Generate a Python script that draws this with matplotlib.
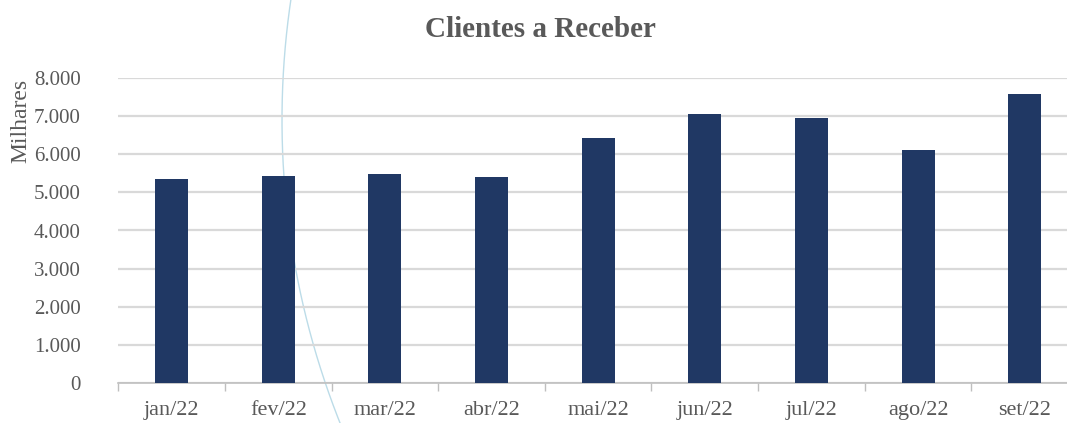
import numpy as np
import matplotlib
matplotlib.use("Agg")
import matplotlib.pyplot as plt
from matplotlib.ticker import FuncFormatter, FixedLocator

meses = ["jan/22", "fev/22", "mar/22", "abr/22", "mai/22", "jun/22", "jul/22", "ago/22", "set/22"]
valores = [5350, 5440, 5470, 5400, 6430, 7060, 6960, 6110, 7580]

plt.rcParams['font.family'] = ['Liberation Serif', 'DejaVu Serif']
cinza = "#595959"

W, H = 1067, 423
fig = plt.figure(figsize=(W / 100, H / 100), dpi=100)
ax = fig.add_axes([118.3 / W, 1 - 383 / H, (1078 - 118.3) / W, 305 / H])

# arco azul claro decorativo (atrás de tudo)
t = np.linspace(np.pi - 0.6, np.pi + 0.45, 200)
cx, cy, r = 1102, 120, 820
px = cx + r * np.cos(t)
py = cy - r * np.sin(t)
fig.add_artist(plt.Line2D(px / W, 1 - py / H, transform=fig.transFigure,
                          color="#bcdce8", lw=1.0, zorder=0.5))
ax.set_zorder(1)
ax.patch.set_alpha(0)

x = np.arange(len(meses))
ax.bar(x, valores, width=0.31, color="#203864", zorder=3)

ax.set_xlim(-0.5, len(meses) - 0.5)
ax.set_ylim(0, 8000)
ax.set_yticks(np.arange(0, 8001, 1000))
ax.yaxis.set_major_formatter(FuncFormatter(lambda v, p: f"{int(v):,}".replace(",", ".")))
ax.grid(axis="y", color="#d9d9d9", lw=1.6, zorder=0)
ax.tick_params(axis="y", length=0, pad=27, labelsize=15, labelcolor=cinza)

ax.xaxis.set_major_locator(FixedLocator(np.arange(-0.5, len(meses), 1)))
ax.xaxis.set_minor_locator(FixedLocator(x))
ax.set_xticklabels([], minor=False)
ax.set_xticklabels(meses, minor=True)
ax.tick_params(axis="x", which="major", length=6, color="#bfbfbf", width=1)
ax.tick_params(axis="x", which="minor", length=0, pad=13, labelsize=16, labelcolor=cinza)

for s in ["top", "right", "left"]:
    ax.spines[s].set_visible(False)
ax.spines["bottom"].set_color("#bfbfbf")
ax.spines["bottom"].set_linewidth(1.2)

fig.text(540 / W, 1 - 37 / H, "Clientes a Receber", ha="center", va="baseline",
         fontsize=21, fontweight="bold", color=cinza)
fig.text(21 / W, 1 - 121 / H, "Milhares", rotation=90, ha="center", va="center",
         fontsize=17, color=cinza)

fig.savefig("out.png", dpi=100)
